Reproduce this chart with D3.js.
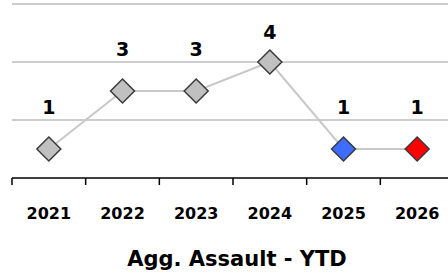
<!DOCTYPE html>
<html>
<head>
<meta charset="utf-8">
<script src="https://cdn.jsdelivr.net/npm/d3@7"></script>
<style>
  body { margin: 0; background: #fff; }
  text { font-family: "DejaVu Sans", sans-serif; font-weight: bold; fill: #000; }
</style>
</head>
<body>
<div id="Chart"></div>
<script>
// data
var years = ["2021", "2022", "2023", "2024", "2025", "2026"];
var counts = [1, 3, 3, 4, 1, 1];
var markerColors = ["#c0c0c0", "#c0c0c0", "#c0c0c0", "#c0c0c0", "#3d6cff", "#ff0000"];
var gridValues = [2, 4, 6];
var chartTitle = "Agg. Assault - YTD";

var data = years.map(function(y, i) { return {year: y, count: counts[i], color: markerColors[i]}; });

var margin = {top: 4, left: 12},
    width = 442,
    height = 174;

var svg = d3.select("#Chart")
    .append("svg")
    .attr("width", 448)
    .attr("height", 276)
    .attr("class", "chart");

var g = svg.append("g")
    .attr("transform", "translate(" + margin.left + "," + margin.top + ")");

var x = d3.scaleBand().domain(years).range([0, width]);
var y = d3.scaleLinear().domain([0, 6]).range([height, 0]);

// gridlines
g.selectAll(".grid")
  .data(gridValues)
  .enter().append("line")
  .attr("class", "grid")
  .attr("x1", 0)
  .attr("x2", width)
  .attr("y1", function(d) { return y(d); })
  .attr("y2", function(d) { return y(d); })
  .attr("stroke", "#bcbcbc")
  .attr("stroke-width", 1.6);

// x axis
var xAxis = d3.axisBottom(x).tickSize(0).tickPadding(0);
var axisG = g.append("g")
  .attr("transform", "translate(0," + y(0) + ")")
  .call(xAxis);
axisG.select(".domain").remove();
axisG.append("line")
  .attr("x1", 0).attr("x2", width)
  .attr("stroke", "#000").attr("stroke-width", 1.5);
axisG.selectAll(".band-tick")
  .data(years.concat(["end"]))
  .enter().append("line")
  .attr("class", "band-tick")
  .attr("x1", function(d, i) { return i * x.step(); })
  .attr("x2", function(d, i) { return i * x.step(); })
  .attr("y1", 0).attr("y2", 7)
  .attr("stroke", "#000").attr("stroke-width", 1.5);
axisG.selectAll(".tick text")
  .attr("y", 41)
  .attr("dy", 0)
  .style("font-size", "16px")
  .style("font-family", "'DejaVu Sans', sans-serif")
  .style("font-weight", "bold")
  .attr("fill", "#000");

var cx = function(d) { return x(d.year) + x.bandwidth() / 2; };

// line
var line = d3.line().x(cx).y(function(d) { return y(d.count); });
g.append("path")
  .datum(data)
  .attr("d", line)
  .attr("fill", "none")
  .attr("stroke", "#c8c8c8")
  .attr("stroke-width", 2);

// diamond markers
var r = 12;
g.selectAll(".marker")
  .data(data)
  .enter().append("path")
  .attr("class", "marker")
  .attr("d", function(d) {
    var px = cx(d), py = y(d.count);
    return "M" + px + "," + (py - r) + "L" + (px + r) + "," + py + "L" + px + "," + (py + r) + "L" + (px - r) + "," + py + "Z";
  })
  .attr("fill", function(d) { return d.color; })
  .attr("stroke", "#3a3a3a")
  .attr("stroke-width", 1.5);

// value labels
var maxCount = d3.max(counts);
g.selectAll(".val")
  .data(data)
  .enter().append("text")
  .attr("class", "val")
  .attr("x", cx)
  .attr("y", function(d) { return y(d.count) - (d.count === maxCount ? 23 : 35); })
  .attr("text-anchor", "middle")
  .style("font-size", "19px")
  .text(function(d) { return d.count; });

// title
svg.append("text")
  .attr("x", 237)
  .attr("y", 266)
  .attr("text-anchor", "middle")
  .style("font-size", "21px")
  .text(chartTitle);
</script>
</body>
</html>
